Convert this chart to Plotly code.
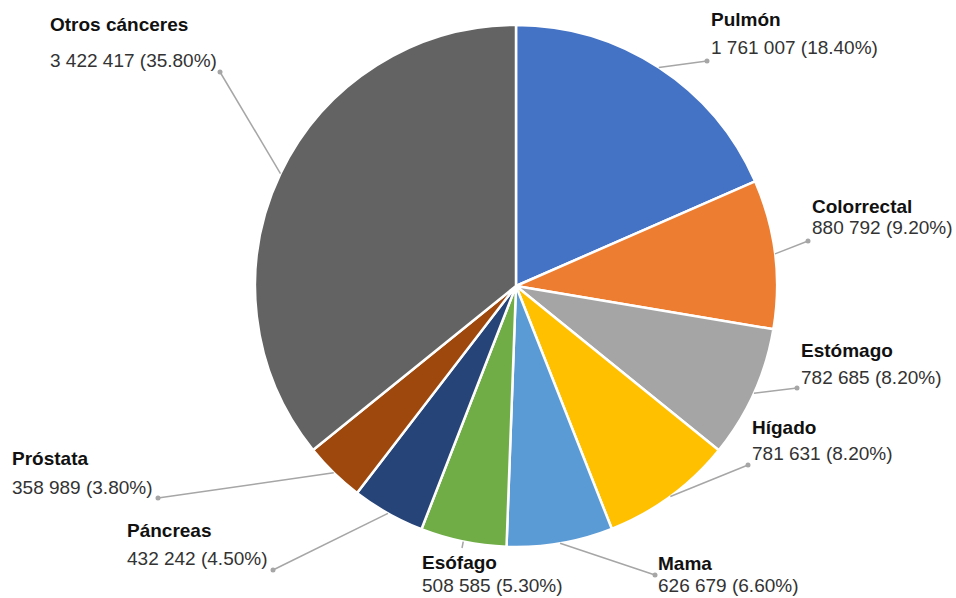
import math
import plotly.graph_objects as go

# ---- data ----
labels = ["Pulmón", "Colorrectal", "Estómago", "Hígado", "Mama", "Esófago",
          "Páncreas", "Próstata", "Otros cánceres"]
values = [1761007, 880792, 782685, 781631, 626679, 508585, 432242, 358989, 3422417]
value_text = ["1 761 007", "880 792", "782 685", "781 631", "626 679", "508 585",
              "432 242", "358 989", "3 422 417"]
pct_text = ["18.40%", "9.20%", "8.20%", "8.20%", "6.60%", "5.30%", "4.50%", "3.80%", "35.80%"]
colors = ["#4472C4", "#ED7D31", "#A5A5A5", "#FFC000", "#5B9BD5", "#70AD47",
          "#264478", "#9E480E", "#636363"]

# ---- layout (pixels) ----
W, H = 956, 598
CX, CY, R = 516, 286, 261
# label placement: (dot_x, dot_y, text_x, title_y, value_y, show_dot)
label_pos = [
    (707, 61, 709, 20, 47, True),
    (808, 241, 810, 206, 228, True),
    (797, 388, 799, 350, 377, True),
    (748, 465, 750, 427, 453, True),
    (655, 575, 656, 563, 585, True),
    (462, 548, 420, 562, 585, False),
    (273, 570, 125, 530, 558, True),
    (158, 498, 10, 458, 487, True),
    (220, 72, 48, 25, 60, True),
]

def px(x):
    return x / W

def py(y):
    return 1 - y / H

fig = go.Figure()
fig.add_trace(go.Pie(
    labels=labels, values=values, sort=False, direction="clockwise", rotation=0,
    marker=dict(colors=colors, line=dict(color="white", width=2.5)),
    textinfo="none", hoverinfo="label+value+percent", showlegend=False,
    domain=dict(x=[px(CX - R), px(CX + R)], y=[py(CY + R), py(CY - R)]),
))

total = sum(values)
cum = 0
shapes = []
annotations = []
for i, v in enumerate(values):
    mid = (cum + v / 2) / total
    cum += v
    ang = 2 * math.pi * mid
    sx = CX + R * math.sin(ang)
    sy = CY - R * math.cos(ang)
    dx, dy, tx, ty, vy, dot = label_pos[i]
    shapes.append(dict(type="line", xref="paper", yref="paper",
                       x0=px(sx), y0=py(sy), x1=px(dx), y1=py(dy),
                       line=dict(color="#A6A6A6", width=1.5)))
    if dot:
        rr = 2.5
        shapes.append(dict(type="circle", xref="paper", yref="paper",
                           x0=px(dx - rr), x1=px(dx + rr), y0=py(dy + rr), y1=py(dy - rr),
                           fillcolor="#A6A6A6", line=dict(width=0)))
    annotations.append(dict(xref="paper", yref="paper", x=px(tx), y=py(ty),
                            xanchor="left", yanchor="middle", showarrow=False,
                            text="<b>" + labels[i] + "</b>",
                            font=dict(family="Liberation Sans, Arial", size=19, color="#111111")))
    annotations.append(dict(xref="paper", yref="paper", x=px(tx), y=py(vy),
                            xanchor="left", yanchor="middle", showarrow=False,
                            text=value_text[i] + " (" + pct_text[i] + ")",
                            font=dict(family="Liberation Sans, Arial", size=19, color="#333333")))

fig.update_layout(
    width=W, height=H, margin=dict(l=0, r=0, t=0, b=0),
    paper_bgcolor="white", plot_bgcolor="white",
    shapes=shapes, annotations=annotations,
)
fig.write_html("out.html")
